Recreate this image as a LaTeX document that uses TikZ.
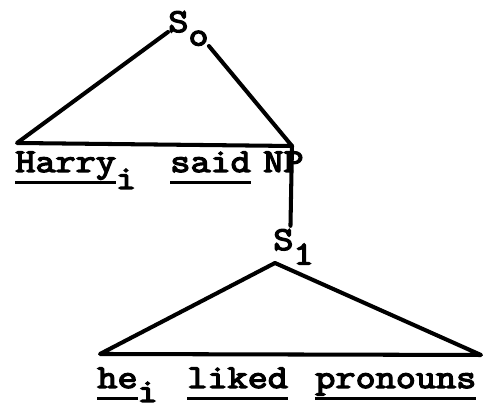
\documentclass[tikz,border=0pt]{standalone}
\usepackage{fontspec}
\setmainfont{Latin Modern Mono}[FakeStretch=1.17, FakeBold=4]
\usepackage{tikz}
\tikzset{>=stealth}
\tikzset{word/.style={inner sep=0pt, anchor=base west, font=\fontsize{19}{22}\selectfont},
	branch/.style={line width=2.3pt, line cap=round, line join=round}}
\newcommand\tline[1]{\setbox0\hbox{#1}\rlap{\rule[-0.24cm]{\wd0}{1.9pt}}\box0}

\begin{document}
\begin{tikzpicture}
			\useasboundingbox (0, 0) rectangle (9.8, 8.18);
			\node [word] (s0) at (3.36, 7.54) {S\raisebox{-0.27cm}{o}};
			\coordinate (t0l) at (0.34, 5.32);
			\coordinate (t0r) at (5.84, 5.26);
			\draw [branch] (s0.base west)--(t0l)--(t0r)--(s0.south east);
			\node [word] (harry) at (0.30, 4.74) {\tline{Harry}\raisebox{-0.34cm}{i}};
			\node [word] (said) at (3.40, 4.74) {\tline{said}};
			\node [word] (np) at (5.26, 4.74) {NP};
			\node [word] (s1) at (5.46, 3.18) {S\raisebox{-0.29cm}{1}};
			\draw [branch] (t0r)--([xshift=-0.06cm, yshift=0.06cm]s1.north);
			\coordinate (t1a) at (5.50, 2.92);
			\coordinate (t1l) at (2.00, 1.10);
			\coordinate (t1r) at (9.62, 1.08);
			\draw [branch] (t1a)--(t1l)--(t1r)--cycle;
			\node [word] (he) at (1.94, 0.42) {\tline{he}\raisebox{-0.28cm}{i}};
			\node [word] (liked) at (3.74, 0.42) {\tline{liked}};
			\node [word] (pronouns) at (6.30, 0.42) {\tline{pronouns}};
		\end{tikzpicture}
\end{document}
